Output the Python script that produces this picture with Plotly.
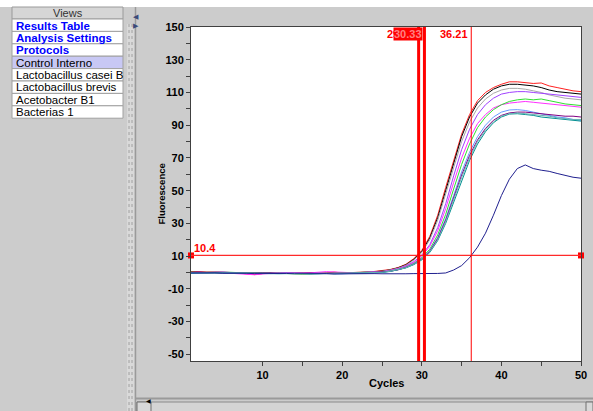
import plotly.graph_objects as go

# ---------------- data ----------------
cycles = list(range(1, 51))

red = [0.4, 0.6, 0.3, 0.5, 0.2, 0.0, -0.3, -0.9, -1.3, -0.7, -0.2, -0.4, -0.1, -0.5, -0.6, -0.3, -0.4, -0.2, 0.2, -0.3, -0.2, 0.0, 0.3, 0.6,
       1.0, 1.8, 3.0, 5.0, 8.5, 13.5, 22, 35, 52, 69, 84.5, 96.5, 105, 110, 113, 115, 116.5, 116.5, 116, 115.5, 115.8, 114, 113, 112, 111, 110.5]
black = [0.2, 0.1, 0.3, 0.2, 0.0, -0.2, -0.1, -0.3, -0.4, -0.2, -0.3, -0.5, -0.4, -0.6, -0.5, -0.4, -0.6, -0.5, -0.3, -0.4, -0.2, -0.1, 0.1, 0.4,
         0.8, 1.6, 2.8, 4.7, 8.0, 12.8, 21, 33.5, 50, 67, 83, 95, 103.5, 108.5, 112, 114, 115, 115, 114.5, 114, 113, 111.5, 110.5, 110, 109.5, 109]
gray = [-0.2, 0.0, 0.2, 0.4, 0.1, -0.1, -0.3, -0.2, -0.5, -0.4, -0.6, -0.3, -0.2, -0.4, -0.7, -0.5, -0.3, -0.4, -0.6, -0.4, -0.2, -0.1, 0.2, 0.4,
        0.7, 1.5, 2.6, 4.4, 7.6, 12.2, 20, 32, 48, 64.5, 80, 92, 100.5, 106, 109.5, 111.5, 112.5, 112.5, 112, 111, 110, 108.5, 107.5, 106.5, 106, 105.5]
violet = [0.0, 0.2, -0.1, 0.1, 0.3, 0.0, -0.2, -0.4, -0.3, -0.5, -0.4, -0.2, -0.3, -0.5, -0.4, -0.6, -0.7, -0.5, -0.4, -0.3, -0.4, -0.2, 0.0, 0.3,
          0.5, 1.2, 2.3, 4.0, 6.6, 10.6, 17, 27.5, 42, 59, 75, 87.5, 96.5, 102.5, 106.5, 109, 110, 110.5, 110.5, 110, 109.5, 109, 108.5, 108, 107.5, 107]
magenta = [-0.3, -0.1, 0.1, 0.0, -0.2, -0.5, -0.8, -1.1, -1.4, -0.9, -0.5, -0.3, -0.2, -0.4, -0.3, -0.2, 0.2, 0.5, 0.3, 0.0, -0.2, -0.3, 0.0, 0.2,
           0.4, 1.1, 2.1, 3.7, 6.2, 10.0, 16, 25.5, 39, 55, 70, 82, 91, 96.5, 100.5, 102.5, 103.5, 104, 104.5, 104, 103.5, 103, 102.5, 102, 101.5, 101]
green = [0.1, -0.1, -0.2, 0.0, 0.2, 0.1, -0.1, -0.3, -0.2, -0.4, -0.6, -0.5, -0.7, -0.9, -1.0, -0.8, -0.6, -0.7, -0.5, -0.4, -0.5, -0.3, -0.1, 0.1,
         0.2, 0.9, 1.8, 3.3, 5.6, 9.0, 14.2, 23, 35.5, 51, 66, 78.5, 88.5, 95, 99.5, 102.5, 104.5, 105.5, 106, 105.5, 106, 105, 104, 103, 102.5, 102]
cornflower = [-0.4, -0.2, -0.3, -0.1, 0.0, -0.2, -0.4, -0.3, -0.6, -0.5, -0.7, -0.6, -0.4, -0.5, -0.8, -0.6, -0.5, -0.7, -0.6, -0.8, -0.6, -0.5, -0.3, -0.1,
              0.1, 0.8, 1.7, 3.1, 5.3, 8.5, 13.4, 21.5, 33, 47, 61.5, 73.5, 83, 90, 95, 98, 99.3, 99.5, 99, 98, 97, 96, 95, 94.5, 93.5, 93]
dark_purple = [-0.1, 0.0, -0.2, -0.1, -0.3, -0.2, -0.4, -0.5, -0.3, -0.4, -0.6, -0.5, -0.3, -0.6, -0.5, -0.4, -0.6, -0.8, -0.7, -0.5, -0.6, -0.4, -0.2, 0.0,
               0.1, 0.7, 1.6, 3.0, 5.1, 8.2, 13, 20.8, 32, 45.5, 59.5, 71.5, 81, 88, 93, 96, 97.5, 98, 98, 97.5, 97, 96.5, 96, 95.5, 95.5, 95]
teal = [-0.5, -0.3, -0.4, -0.2, -0.3, -0.5, -0.4, -0.6, -0.5, -0.7, -0.6, -0.8, -0.7, -0.5, -0.6, -0.9, -0.7, -0.6, -0.8, -0.7, -0.6, -0.5, -0.4, -0.2,
        0.0, 0.6, 1.5, 2.8, 4.8, 7.7, 12.2, 19.5, 30, 43, 56.5, 68.5, 78.5, 86, 91.5, 95, 96.8, 97, 96.5, 96, 95, 94.5, 94, 93.5, 93, 92.5]
light_teal = [-0.2, -0.4, -0.3, -0.5, -0.4, -0.3, -0.5, -0.4, -0.6, -0.8, -0.7, -0.5, -0.6, -0.4, -0.6, -0.7, -0.9, -0.8, -0.6, -0.5, -0.7, -0.4, -0.3, -0.1,
              0.1, 0.7, 1.6, 2.9, 5.0, 8.0, 12.6, 20, 31, 44.5, 58, 70, 80, 87, 92, 95.5, 97, 97.5, 97, 96.5, 96, 95.5, 94.5, 94, 93.5, 93.5]
navy = [-0.3, -0.2, -0.4, -0.3, -0.5, -0.4, -0.6, -0.5, -0.7, -0.6, -0.5, -0.7, -0.6, -0.8, -0.7, -0.6, -0.8, -0.7, -0.9, -0.8, -0.7, -0.9, -0.8, -0.7,
        -0.8, -0.9, -0.8, -0.8, -0.7, -0.8, -0.7, -0.6,
        -0.3, 1.5, 4.2, 9.0, 15.5, 24, 35, 47, 57, 63.5, 65.7, 63.5, 62.5, 61.8, 60.5, 59.2, 58.2, 57.6]

series = [
    (red, "#ff2020"), (black, "#000000"), (gray, "#a8a8a8"), (violet, "#a040ff"),
    (magenta, "#ff30ff"), (green, "#30e030"), (cornflower, "#6699ff"),
    (dark_purple, "#800080"), (teal, "#008f8f"), (light_teal, "#66b3b3"),
    (navy, "#20208f"),
]

threshold = 10.4
threshold_label = "10.4"
ct_values = [29.6, 30.33, 36.21]
ct_labels = ["29.62", "30.33", "36.21"]
ct_widths = [3, 3, 1]

x_tick_vals = [10, 15, 20, 25, 30, 35, 40, 45, 50]
x_tick_text = ["10", "", "20", "", "30", "", "40", "", "50"]
y_tick_vals = [-50, -40, -30, -20, -10, 0, 10, 20, 30, 40, 50, 60, 70, 80, 90, 100, 110, 120, 130, 140, 150]
y_tick_text = ["-50", "", "-30", "", "-10", "", "10", "", "30", "", "50", "", "70", "", "90", "", "110", "", "130", "", "150"]

views_items = ["Results Table", "Analysis Settings", "Protocols", "Control Interno",
               "Lactobacillus casei B", "Lactobacillus brevis", "Acetobacter B1", "Bacterias 1"]
views_bold = [True, True, True, False, False, False, False, False]
selected_item = "Control Interno"

# ---------------- layout geometry (pixels) ----------------
FW, FH = 593, 411
L, R, T, B = 191, 12, 27, 50
PW, PH = FW - L - R, FH - T - B
FONT = "Arial, Liberation Sans, sans-serif"


def px(xp):
    return (xp - L) / PW


def py(yp):
    return (T + PH - yp) / PH


fig = go.Figure()

for vals, col in series:
    fig.add_trace(go.Scatter(x=cycles, y=vals, mode="lines",
                             line=dict(color=col, width=1), hoverinfo="skip",
                             showlegend=False))

shapes = []
annotations = []

# threshold line (shape) and its end handles (markers)
shapes.append(dict(type="line", xref="x", yref="y", x0=cycles[0], x1=cycles[-1],
                   y0=threshold, y1=threshold, line=dict(color="#ff2a2a", width=1.3), layer="above"))
fig.add_trace(go.Scatter(x=[cycles[0], cycles[-1]], y=[threshold, threshold],
                         mode="markers",
                         marker=dict(symbol="square", size=6, color="#ff0000",
                                     line=dict(width=0)),
                         cliponaxis=False, showlegend=False, hoverinfo="skip"))

# Ct vertical lines
for v, w in zip(ct_values, ct_widths):
    shapes.append(dict(type="line", xref="x", yref="paper", x0=v, x1=v, y0=0, y1=1,
                       line=dict(color="#ff0000", width=w)))
for i, (v, lab) in enumerate(zip(ct_values, ct_labels)):
    ann = dict(x=v, y=py(33.5), xref="x", yref="paper", text="<b>%s</b>" % lab,
               showarrow=False, xanchor="right", yanchor="middle", xshift=-1.5,
               font=dict(family=FONT, size=11, color="#ff0000"))
    if i == 1:
        ann.update(bgcolor="#ff0000", borderpad=0, font=dict(family=FONT, size=11, color="#ff8080"))
    annotations.append(ann)
annotations.append(dict(x=cycles[0], y=threshold, xref="x", yref="y", text="<b>%s</b>" % threshold_label,
                        showarrow=False, xanchor="left", yanchor="bottom", xshift=1, yshift=-1,
                        font=dict(family=FONT, size=11, color="#ff0000")))

# axis titles
annotations.append(dict(x=px(160.5), y=py(194), xref="paper", yref="paper", text="<b>Fluorescence</b>",
                        textangle=-90, showarrow=False, xanchor="center", yanchor="middle",
                        font=dict(family=FONT, size=9.5, color="#000000")))
annotations.append(dict(x=px(386), y=py(382.5), xref="paper", yref="paper", text="<b>Cycles</b>",
                        showarrow=False, xanchor="center", yanchor="middle",
                        font=dict(family=FONT, size=11, color="#000000")))


def rect(x0, y0, x1, y1, fill, line=None, lw=1):
    shapes.append(dict(type="rect", xref="paper", yref="paper",
                       x0=px(x0), x1=px(x1), y0=py(y1), y1=py(y0),
                       fillcolor=fill, line=dict(color=line or fill, width=lw if line else 0),
                       layer="above"))


def hline(x0, x1, y, col, lw=1, dash="solid"):
    shapes.append(dict(type="line", xref="paper", yref="paper", x0=px(x0), x1=px(x1),
                       y0=py(y), y1=py(y), line=dict(color=col, width=lw, dash=dash)))


def vline(x, y0, y1, col, lw=1, dash="solid"):
    shapes.append(dict(type="line", xref="paper", yref="paper", x0=px(x), x1=px(x),
                       y0=py(y0), y1=py(y1), line=dict(color=col, width=lw, dash=dash)))


# top white strip
rect(0, 0, FW, 7, "#ffffff")
# Views header
rect(12, 7, 123, 19, "#d6d6d6", "#9a9a9a")
annotations.append(dict(x=px(68), y=py(13.2), xref="paper", yref="paper", text="Views",
                        showarrow=False, xanchor="center", yanchor="middle",
                        font=dict(family=FONT, size=11, color="#333333")))
# list rows
row_h = 12.4
top = 19
for i, (item, bold) in enumerate(zip(views_items, views_bold)):
    y0 = top + i * row_h
    fill = "#c8c8f4" if item == selected_item else "#ffffff"
    rect(12, y0, 123, y0 + row_h, fill, "#a0a0a0")
    txt = "<b>%s</b>" % item if bold else item
    annotations.append(dict(x=px(14), y=py(y0 + row_h / 2 + 0.3), xref="paper", yref="paper",
                            text=txt, showarrow=False, xanchor="left", yanchor="middle",
                            width=108, align="left",
                            font=dict(family=FONT, size=11.5, color="#0000ff" if bold else "#000000")))

# splitter
rect(127, 24, 134, FH, "#d9d9d9")
vline(129, 24, FH, "#a0a0a0", 1, "dot")
vline(132, 24, FH, "#a0a0a0", 1, "dot")
annotations.append(dict(x=px(130.5), y=py(10.5), xref="paper", yref="paper", text="◀",
                        showarrow=False, font=dict(family="DejaVu Sans", size=7, color="#3a4a7a")))
annotations.append(dict(x=px(130.5), y=py(19.5), xref="paper", yref="paper", text="▶",
                        showarrow=False, font=dict(family="DejaVu Sans", size=7, color="#3a4a7a")))
vline(135.5, 7, FH, "#9a9a9a", 1.5)

# bottom scrollbar
hline(136, FW, 398.5, "#9a9a9a", 2)
rect(137, 402, FW, FH + 2, "#d4d4d4", "#8a8a8a")
rect(137, 402, 151, FH + 2, "#d8d8d8", "#707070")
rect(586, 402, FW, FH + 2, "#d8d8d8", "#707070")
annotations.append(dict(x=px(144), y=py(406.5), xref="paper", yref="paper", text="◀",
                        showarrow=False, font=dict(family="DejaVu Sans", size=6, color="#000000")))

fig.update_layout(
    width=FW, height=FH,
    margin=dict(l=L, r=R, t=T, b=B, pad=0),
    paper_bgcolor="#cccccc", plot_bgcolor="#ffffff",
    showlegend=False,
    shapes=shapes, annotations=annotations,
    font=dict(family=FONT),
    xaxis=dict(range=[1, 50], tickmode="array", tickvals=x_tick_vals, ticktext=x_tick_text,
               ticks="outside", ticklen=4, tickcolor="#404040", showgrid=False, zeroline=False,
               showline=True, mirror=True, linecolor="#404040", linewidth=1, automargin=False,
               tickfont=dict(family=FONT, size=11, color="#000000", weight="bold")),
    yaxis=dict(range=[-54.1, 150], tickmode="array", tickvals=y_tick_vals, ticktext=y_tick_text,
               ticks="outside", ticklen=4, tickcolor="#404040", showgrid=False, zeroline=False,
               showline=True, mirror=True, linecolor="#404040", linewidth=1, automargin=False,
               tickfont=dict(family=FONT, size=11, color="#000000", weight="bold")),
)

fig.write_html("out.html", config={"displayModeBar": False},
               post_script="document.body.style.margin='0';document.body.style.padding='0';document.body.style.overflow='hidden';")
